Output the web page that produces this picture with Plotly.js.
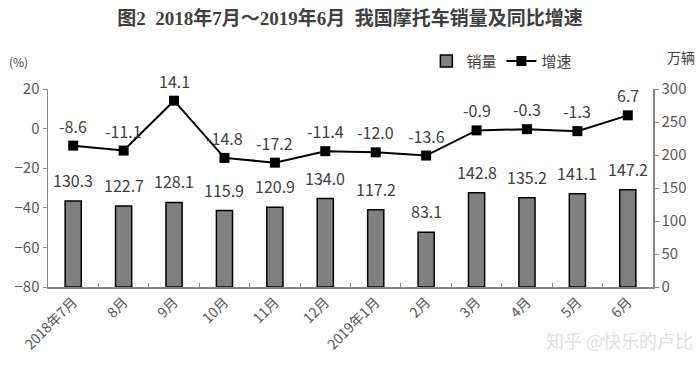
<!DOCTYPE html>
<html><head><meta charset="utf-8">
<script src="https://cdn.plot.ly/plotly-3.0.1.min.js"></script>
<style>html,body{margin:0;padding:0;background:#fff;}#chart{width:700px;height:366px;}</style>
</head><body><div id="chart"></div>
<script>
const categories = ["2018年7月","8月","9月","10月","11月","12月","2019年1月","2月","3月","4月","5月","6月"];
const sales = [130.3,122.7,128.1,115.9,120.9,134.0,117.2,83.1,142.8,135.2,141.1,147.2];
const growth = [-8.6,-11.1,14.1,-14.8,-17.2,-11.4,-12.0,-13.6,-0.9,-0.3,-1.3,6.7];
const leftTicks = [-80,-60,-40,-20,0,20];
const rightTicks = [0,50,100,150,200,250,300];

const FONT = '"Noto Sans CJK SC", "Noto Sans", sans-serif';
const LABELFONT = {family:FONT, size:16, color:'#404040'};
const barTrace = {
  type:'bar', name:'销量', x:categories, y:sales, yaxis:'y2',
  marker:{color:'#808080', line:{color:'#000', width:1.5}},
  width:0.32
};
const lineTrace = {
  type:'scatter', mode:'lines+markers', name:'增速', x:categories, y:growth, yaxis:'y',
  line:{color:'#000', width:2}, marker:{symbol:'square', size:10, color:'#000'}
};
const barAnn = categories.map((c,i)=>({x:c, y:sales[i], xref:'x', yref:'y2', text:sales[i].toFixed(1), showarrow:false, yshift:21, yanchor:'middle', font:LABELFONT}));
const lineAnn = categories.map((c,i)=>({x:c, y:growth[i], xref:'x', yref:'y', text:growth[i].toFixed(1), showarrow:false, yshift:20, yanchor:'middle', font:LABELFONT}));
const layout = {
  width:700, height:366,
  margin:{l:48, r:47, t:89, b:79},
  paper_bgcolor:'#fff', plot_bgcolor:'#fff',
  font:{family:FONT, color:'#595959', size:14},
  title:{text:'<b>图2  2018年7月～2019年6月  我国摩托车销量及同比增速</b>', x:0.5, xanchor:'center', y:0.95, yanchor:'middle',
    font:{family:'"Liberation Serif", "Noto Sans CJK SC", serif', size:19, color:'#404040'}},
  xaxis:{type:'category', range:[-0.5,11.5], tickangle:-45, showline:true, linecolor:'#888', linewidth:1.5,
    ticks:'inside', tickson:'boundaries', ticklen:4, tickcolor:'#888', showgrid:false, zeroline:false,
    tickfont:{family:FONT, size:14, color:'#595959'}},
  yaxis:{range:[-80,20], tickvals:leftTicks, showline:true, linecolor:'#888', linewidth:1.5, ticks:'outside', ticklen:4, tickcolor:'#888',
    showgrid:false, zeroline:false, tickfont:{family:FONT, size:15, color:'#595959'}},
  yaxis2:{range:[0,300], tickvals:rightTicks, overlaying:'y', side:'right', showline:true, linecolor:'#888', linewidth:1.5, ticks:'outside', ticklen:4, tickcolor:'#888',
    showgrid:false, zeroline:false, tickfont:{family:FONT, size:15, color:'#595959'}},
  showlegend:true,
  legend:{orientation:'h', x:0.875, xanchor:'right', y:1.14, yanchor:'middle', font:{family:FONT, size:15, color:'#404040'}, traceorder:'normal'},
  annotations:[
    {text:'(%)', xref:'paper', yref:'paper', x:-0.068, y:1.14, xanchor:'left', yanchor:'middle', showarrow:false, font:{family:FONT, size:12, color:'#404040'}},
    {text:'万辆', xref:'paper', yref:'paper', x:1.02, y:1.16, xanchor:'left', yanchor:'middle', showarrow:false, font:{family:FONT, size:14, color:'#404040'}},
    {text:'知乎 @快乐的卢比', xref:'paper', yref:'paper', x:1.07, y:-0.27, xanchor:'right', yanchor:'middle', showarrow:false, font:{family:FONT, size:18, color:'#e0e0e0'}}
  ].concat(barAnn, lineAnn)
};
Plotly.newPlot('chart',[barTrace,lineTrace],layout,{displayModeBar:false, staticPlot:true});
</script></body></html>
